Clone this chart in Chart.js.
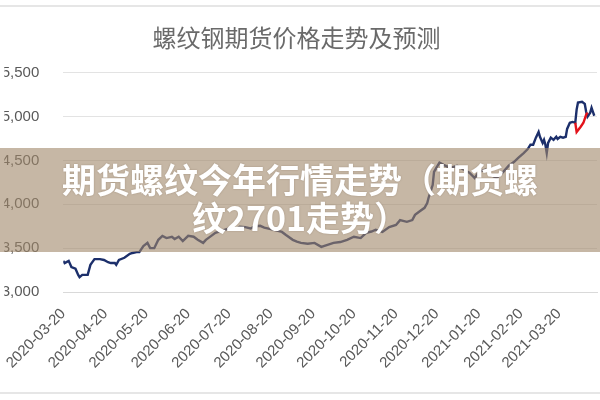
<!DOCTYPE html>
<html>
<head>
<meta charset="utf-8">
<script src="https://cdn.jsdelivr.net/npm/chart.js@4"></script>
<style>
  html, body { margin: 0; padding: 0; background: #fff; }
  body { width: 600px; height: 400px; position: relative; overflow: hidden; }
  #wrap { position: absolute; left: -4px; top: 0; width: 604px; height: 400px; }
  .rule { position: absolute; left: 0; width: 600px; height: 2px; background: #e6e6e6; }
  #banner {
    position: absolute; left: 0; top: 148px; width: 600px; height: 104px;
    background: rgba(160, 135, 105, 0.6);
    display: flex; align-items: center; justify-content: center;
    color: #fff; font-family: "Noto Sans CJK SC", sans-serif; font-weight: bold;
    font-size: 34px; line-height: 38px; text-align: center;
    text-shadow: 0 0 2px rgba(90, 70, 50, 0.35);
  }
  #banner div { margin-top: -4px; }
</style>
</head>
<body>
<div class="rule" style="top:5px"></div>
<div id="wrap"><canvas id="grafica" width="604" height="400"></canvas></div>
<div class="rule" style="top:392px"></div>
<div id="banner"><div>期货螺纹今年行情走势（期货螺<br>纹2701走势）</div></div>
<script>
//螺纹钢期货价格走势

const titulo = "螺纹钢期货价格走势及预测";

// fechas y precios de la serie real
const fechas = [
  "2020-03-20", "2020-03-21", "2020-03-24", "2020-03-26", "2020-03-29", "2020-03-31",
  "2020-04-01", "2020-04-03", "2020-04-07", "2020-04-09", "2020-04-12", "2020-04-16",
  "2020-04-19", "2020-04-22", "2020-04-24", "2020-04-27", "2020-04-28", "2020-04-30",
  "2020-05-04", "2020-05-08", "2020-05-10", "2020-05-13", "2020-05-15", "2020-05-18",
  "2020-05-21", "2020-05-23", "2020-05-26", "2020-05-29", "2020-06-01", "2020-06-04",
  "2020-06-08", "2020-06-10", "2020-06-13", "2020-06-16", "2020-06-20", "2020-06-24",
  "2020-06-27", "2020-07-01", "2020-07-03", "2020-07-07", "2020-07-10", "2020-07-15",
  "2020-07-21", "2020-07-25", "2020-07-28", "2020-08-01", "2020-08-05", "2020-08-08",
  "2020-08-12", "2020-08-15", "2020-08-19", "2020-08-23", "2020-08-28", "2020-08-31",
  "2020-09-05", "2020-09-08", "2020-09-11", "2020-09-16", "2020-09-21", "2020-09-26",
  "2020-09-30", "2020-10-05", "2020-10-10", "2020-10-15", "2020-10-20", "2020-10-25",
  "2020-10-29", "2020-11-02", "2020-11-05", "2020-11-10", "2020-11-15", "2020-11-20",
  "2020-11-23", "2020-11-28", "2020-12-02", "2020-12-04", "2020-12-07", "2020-12-11",
  "2020-12-13", "2020-12-14", "2020-12-17", "2020-12-18", "2020-12-20", "2020-12-22",
  "2020-12-25", "2020-12-30", "2021-01-04", "2021-01-09", "2021-01-13", "2021-01-17",
  "2021-01-20", "2021-01-25", "2021-01-29", "2021-02-02", "2021-02-07", "2021-02-11",
  "2021-02-15", "2021-02-18", "2021-02-22", "2021-02-25", "2021-02-27", "2021-03-01",
  "2021-03-03", "2021-03-05", "2021-03-06", "2021-03-08", "2021-03-09", "2021-03-10",
  "2021-03-11", "2021-03-12", "2021-03-14", "2021-03-16", "2021-03-18", "2021-03-19",
  "2021-03-21", "2021-03-23", "2021-03-25", "2021-03-26", "2021-03-28", "2021-03-30",
  "2021-04-01", "2021-04-02", "2021-04-03", "2021-04-06", "2021-04-08", "2021-04-09",
  "2021-04-10", "2021-04-12", "2021-04-13", "2021-04-14", "2021-04-15"
];
const precios = [
  3355, 3330, 3355, 3285, 3265, 3195,
  3170, 3195, 3195, 3310, 3375, 3375,
  3365, 3340, 3330, 3330, 3310, 3365,
  3390, 3435, 3445, 3455, 3455, 3525,
  3560, 3500, 3500, 3595, 3640, 3615,
  3630, 3605, 3630, 3580, 3640, 3630,
  3595, 3560, 3595, 3640, 3675, 3700,
  3730, 3715, 3745, 3740, 3725, 3750,
  3755, 3735, 3720, 3705, 3685, 3650,
  3595, 3575, 3560, 3550, 3560, 3515,
  3535, 3560, 3570, 3595, 3630, 3615,
  3675, 3690, 3710, 3685, 3740, 3765,
  3820, 3800, 3820, 3880, 3915, 3960,
  4015, 4075, 4220, 4370, 4425, 4475,
  4450, 4415, 4440, 4395, 4360, 4300,
  4370, 4395, 4335, 4300, 4370, 4440,
  4485, 4530, 4585, 4630, 4680, 4680,
  4760, 4825, 4770, 4700, 4735, 4680,
  4585, 4700, 4760, 4735, 4770, 4745,
  4770, 4760, 4770, 4860, 4930, 4940,
  4930, 5080, 5160, 5170, 5145, 5055,
  5000, 5045, 5100, 5055, 5010
];

// tramo de previsión (rojo)
const fechasPrev = ["2021-04-01", "2021-04-02", "2021-04-05", "2021-04-07", "2021-04-09", "2021-04-10"];
const preciosPrev = [4930, 4825, 4885, 4930, 5020, 5045];

// etiquetas del eje x
const etiquetasX = [
  "2020-03-20", "2020-04-20", "2020-05-20", "2020-06-20", "2020-07-20", "2020-08-20",
  "2020-09-20", "2020-10-20", "2020-11-20", "2020-12-20", "2021-01-20", "2021-02-20",
  "2021-03-20"
];
const fechaFin = "2021-04-17";

const ticksY = [3000, 3500, 4000, 4500, 5000, 5500];

// días desde la primera fecha
const base = Date.UTC(2020, 2, 20);
function dia(f) {
  const p = f.split("-").map(Number);
  return Math.round((Date.UTC(p[0], p[1] - 1, p[2]) - base) / 86400000);
}
const nombrePorDia = {};
etiquetasX.forEach((e) => (nombrePorDia[dia(e)] = e));

let grafica = document.getElementById("grafica").getContext("2d");

new Chart(grafica, {
  type: "line",
  data: {
    datasets: [
      {
        label: "预测",
        data: fechasPrev.map((f, i) => ({ x: dia(f), y: preciosPrev[i] })),
        borderColor: "#e3131b",
        borderWidth: 2.4,
        pointRadius: 0,
        tension: 0,
      },
      {
        label: "价格",
        data: fechas.map((f, i) => ({ x: dia(f), y: precios[i] })),
        borderColor: "#1c2f6b",
        borderWidth: 2.4,
        pointRadius: 0,
        tension: 0,
      },
    ],
  },
  options: {
    responsive: false,
    animation: false,
    devicePixelRatio: 1,
    layout: { padding: { left: 0, right: 3, top: 0, bottom: 8 } },
    plugins: {
      legend: { display: false },
      tooltip: { enabled: false },
      title: {
        display: true,
        text: titulo,
        color: "#6a6a6a",
        font: { family: "'Noto Sans CJK SC', sans-serif", size: 24, weight: "normal" },
        padding: { top: 23, bottom: 21 },
      },
    },
    scales: {
      x: {
        type: "linear",
        min: 0,
        max: dia(fechaFin),
        afterBuildTicks: (s) => {
          s.ticks = etiquetasX.map((e) => ({ value: dia(e) }));
        },
        afterFit: (s) => {
          s.height = 100;
        },
        grid: { display: false, drawTicks: false },
        border: { display: true, color: "#d9d9d9", width: 1 },
        ticks: {
          autoSkip: false,
          minRotation: 45,
          maxRotation: 45,
          padding: 13,
          color: "#595959",
          font: { family: "'Liberation Sans', sans-serif", size: 15 },
          callback: (v) => nombrePorDia[v] || "",
        },
      },
      y: {
        min: 3000,
        max: 5500,
        afterBuildTicks: (s) => {
          s.ticks = ticksY.map((v) => ({ value: v }));
        },
        afterFit: (s) => {
          s.width = 59;
        },
        grid: { color: "#e3e3e3", drawTicks: false },
        border: { display: false },
        ticks: {
          padding: 24,
          color: "#595959",
          font: { family: "'Liberation Sans', sans-serif", size: 15 },
          callback: (v) => v.toLocaleString("en-US"),
        },
      },
    },
  },
});
</script>
</body>
</html>
